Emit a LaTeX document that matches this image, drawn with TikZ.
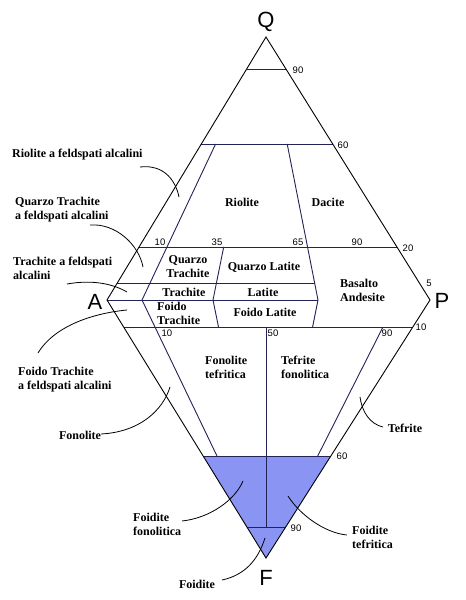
\documentclass[tikz,border=0pt]{standalone}
\usepackage{fontspec}
\setmainfont{Liberation Serif}
\newfontfamily\numfont{Liberation Sans}
\definecolor{navy}{RGB}{35,35,90}
\definecolor{bluefill}{RGB}{138,148,242}
\begin{document}
\begin{tikzpicture}[x=1pt,y=-1pt,
  outline/.style={line width=0.9pt, black, line join=miter},
  inner/.style={line width=0.9pt, navy},
  lbl/.style={font=\fontsize{12}{14}\selectfont\bfseries, inner sep=0pt, align=center},
  lbll/.style={lbl, align=left, anchor=west},
  num/.style={font=\numfont\fontsize{9.5}{10}\selectfont, inner sep=0pt},
  vtx/.style={font=\numfont\fontsize{22}{24}\selectfont, inner sep=0pt},
  lead/.style={line width=0.8pt, black}]
\useasboundingbox (0,0) rectangle (466,600);
\fill[white] (0,0) rectangle (466,600);
% vertices
\coordinate (Q) at (266,37);
\coordinate (A) at (107,300);
\coordinate (P) at (430,300);
\coordinate (F) at (266,558);
% edge points
\coordinate (Q90l) at (246.7,69);  \coordinate (Q90r) at (286.0,69);
\coordinate (Q60l) at (201.3,144); \coordinate (Q60r) at (332.7,144);
\coordinate (Q20l) at (139.0,247); \coordinate (Q20r) at (397.0,247);
\coordinate (Q5l)  at (117.3,283); \coordinate (Q5r)  at (314.6,283);
\coordinate (F10l) at (123.6,327); \coordinate (F10r) at (412.8,327);
\coordinate (F60l) at (203.1,456); \coordinate (F60r) at (330.8,456);
\coordinate (F90l) at (246.9,527); \coordinate (F90r) at (285.7,527);
% ratio lines
\coordinate (L10t) at (215.6,144); \coordinate (L10m) at (142,300); \coordinate (L10b) at (217.0,456);
\coordinate (L35t) at (223.7,247); \coordinate (L35m) at (213,300); \coordinate (L35b) at (218.5,327);
\coordinate (L65t) at (287.2,144); \coordinate (L65m) at (318,300); \coordinate (L65b) at (312.6,327);
\coordinate (L90t) at (383,327);   \coordinate (L90b) at (317.7,456);
\coordinate (L50t) at (266,327);   \coordinate (L50b) at (266,527);
\coordinate (APr) at (318,300);
% blue foidite field
\fill[bluefill] (F60l) -- (F60r) -- (F) -- cycle;
% inner lines
\draw[inner] (Q90l) -- (Q90r);
\draw[inner] (Q60l) -- (Q60r);
\draw[inner] (Q20l) -- (Q20r);
\draw[inner] (Q5l) -- (Q5r);
\draw[inner] (A) -- (APr);
\draw[inner] (F10l) -- (F10r);
\draw[inner] (F60l) -- (F60r);
\draw[inner] (F90l) -- (F90r);
\draw[inner] (L10t) -- (L10m) -- (L10b);
\draw[inner] (L35t) -- (L35m) -- (L35b);
\draw[inner] (L65t) -- (L65m) -- (L65b);
\draw[inner] (L90t) -- (L90b);
\draw[inner] (L50t) -- (L50b);
% outline
\draw[outline] (Q) -- (P) -- (F) -- (A) -- cycle;
% vertex labels
\node[vtx] (nQ) at (266,22) {Q};
\node[vtx] (nA) at (95,302) {A};
\node[vtx] (nP) at (442,301) {P};
\node[vtx] (nF) at (266,578) {F};
% numbers
\node[num] (n90a) at (298,70) {90};
\node[num] (n60a) at (343,145) {60};
\node[num] (n10a) at (160,242) {10};
\node[num] (n35) at (217,242) {35};
\node[num] (n65) at (298,242) {65};
\node[num] (n90b) at (357,242) {90};
\node[num] (n20) at (408,248) {20};
\node[num] (n5) at (429,283) {5};
\node[num] (n10b) at (421,327) {10};
\node[num] (n10c) at (167,333) {10};
\node[num] (n50) at (273,333) {50};
\node[num] (n90c) at (387,333) {90};
\node[num] (n60b) at (342,456) {60};
\node[num] (n90d) at (296,528) {90};
% field labels
\node[lbl] (riolite) at (242,202) {Riolite};
\node[lbl] (dacite) at (328,202) {Dacite};
\node[lbl] (qtrach) at (188,267) {Quarzo\\Trachite};
\node[lbl] (qlat) at (264,267) {Quarzo Latite};
\node[lbl] (trach) at (184,292) {Trachite};
\node[lbl] (lat) at (263,292) {Latite};
\node[lbll] (basand) at (340,290) {Basalto\\Andesite};
\node[lbll] (ftrach) at (157,313.5) {Foido\\Trachite};
\node[lbl] (flat) at (265,312) {Foido Latite};
\node[lbll] (fontef) at (205,367) {Fonolite\\tefritica};
\node[lbll] (teffon) at (281,367) {Tefrite\\fonolitica};
% external labels
\node[lbll] (rfa) at (12,155) {Riolite a feldspati alcalini};
\node[lbll] (qtfa) at (15,209.5) {Quarzo Trachite\\a feldspati alcalini};
\node[lbll] (tfa) at (13,268.5) {Trachite a feldspati\\alcalini};
\node[lbll] (ftfa) at (18,379.5) {Foido Trachite\\a feldspati alcalini};
\node[lbl] (fono) at (80,435) {Fonolite};
\node[lbl] (tefr) at (405,428) {Tefrite};
\node[lbll] (ffon) at (133,524) {Foidite\\fonolitica};
\node[lbll] (ftef) at (352,537.5) {Foidite\\tefritica};
\node[lbl] (foid) at (197,584) {Foidite};
% leader ends
\coordinate (r1s) at (140,167); \coordinate (r1e) at (179,197);
\coordinate (r2s) at (90,225);  \coordinate (r2e) at (143,267);
\coordinate (r3s) at (67,284);  \coordinate (r3e) at (127,292);
\coordinate (r4s) at (38,353);  \coordinate (r4e) at (127,310);
\coordinate (r5s) at (101,434); \coordinate (r5e) at (170,387);
\coordinate (r6s) at (383,427); \coordinate (r6e) at (360,397);
\coordinate (r7s) at (182,521); \coordinate (r7e) at (243,481);
\coordinate (r8s) at (347,535); \coordinate (r8e) at (288,496);
\coordinate (r9s) at (222,580); \coordinate (r9e) at (265,538);
\draw[lead] (r1s) .. controls (165,164) and (176,182) .. (r1e);
\draw[lead] (r2s) .. controls (116,223) and (139,245) .. (r2e);
\draw[lead] (r3s) .. controls (95,279) and (115,285) .. (r3e);
\draw[lead] (r4s) .. controls (55,325) and (95,313) .. (r4e);
\draw[lead] (r5s) .. controls (140,432) and (163,410) .. (r5e);
\draw[lead] (r6s) .. controls (370,424) and (362,412) .. (r6e);
\draw[lead] (r7s) .. controls (210,518) and (235,500) .. (r7e);
\draw[lead] (r8s) .. controls (325,533) and (300,515) .. (r8e);
\draw[lead] (r9s) .. controls (245,575) and (258,560) .. (r9e);
\end{tikzpicture}
\end{document}
